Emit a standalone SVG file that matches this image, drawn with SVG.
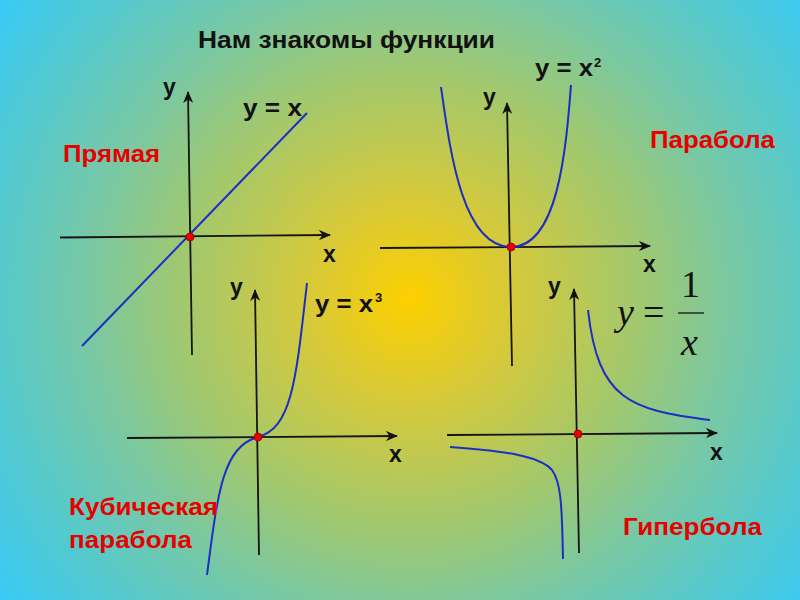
<svg xmlns="http://www.w3.org/2000/svg" width="800" height="600" viewBox="0 0 800 600">
<defs>
<radialGradient id="bg" gradientUnits="userSpaceOnUse" cx="410" cy="300" r="515">
<stop offset="0" stop-color="#fdd000"/>
<stop offset="0.2" stop-color="#d6c93a"/>
<stop offset="0.45" stop-color="#a0c870"/>
<stop offset="0.62" stop-color="#7ac8a2"/>
<stop offset="0.8" stop-color="#56c9cc"/>
<stop offset="1" stop-color="#36cbfa"/>
</radialGradient>
<marker id="arr" viewBox="0 0 12 10" refX="11" refY="5" markerWidth="12" markerHeight="10" markerUnits="userSpaceOnUse" orient="auto">
<path d="M0,0 L12,5 L0,10 L3.5,5 z" fill="#111"/>
</marker>
<style>
.ax{stroke:#151515;stroke-width:1.8;fill:none;marker-end:url(#arr)}
.cv{stroke:#1c2ec4;stroke-width:2;fill:none}
.dot{fill:#ee0000;stroke:#900;stroke-width:0.8}
.lb{font-family:"Liberation Sans",Arial,sans-serif;font-weight:bold;fill:#111;font-size:23px}
.sp{font-family:"Liberation Sans",Arial,sans-serif;font-weight:bold;fill:#111;font-size:13px}
.rd{font-family:"Liberation Sans",Arial,sans-serif;font-weight:bold;fill:#e60000;font-size:24px}
.fm{font-family:"Liberation Serif","Times New Roman",serif;fill:#111;font-size:38px}
</style>
</defs>
<rect width="800" height="600" fill="url(#bg)"/>
<text class="lb" x="198" y="48" textLength="297" lengthAdjust="spacingAndGlyphs">Нам знакомы функции</text>

<g id="line-graph">
<line class="ax" x1="60" y1="237.5" x2="330" y2="235"/>
<line class="ax" x1="192" y1="355" x2="188" y2="92"/>
<line class="cv" x1="82" y1="346" x2="307" y2="113"/>
<circle class="dot" cx="190" cy="237" r="4"/>
<text class="lb" x="163" y="95">y</text>
<text class="lb" x="243" y="116" textLength="59" lengthAdjust="spacingAndGlyphs">y = x</text>
<text class="lb" x="323" y="262">x</text>
<text class="rd" x="63" y="162" textLength="97" lengthAdjust="spacingAndGlyphs">Прямая</text>
</g>

<g id="parabola-graph">
<line class="ax" x1="380" y1="248" x2="650" y2="246"/>
<line class="ax" x1="512" y1="366" x2="507" y2="103"/>
<path class="cv" d="M441,87 C450,150 462,247 511,247 C558,247 566,150 571,85"/>
<circle class="dot" cx="511" cy="247" r="4"/>
<text class="lb" x="535" y="76" textLength="58" lengthAdjust="spacingAndGlyphs">y = x</text>
<text class="sp" x="594" y="67">2</text>
<text class="lb" x="483" y="105">y</text>
<text class="lb" x="643" y="272">x</text>
<text class="rd" x="650" y="148" textLength="125" lengthAdjust="spacingAndGlyphs">Парабола</text>
</g>

<g id="cubic-graph">
<line class="ax" x1="127" y1="438" x2="397" y2="436"/>
<line class="ax" x1="259" y1="555" x2="255" y2="290"/>
<path class="cv" d="M207,575 C218,490 223,447 258,437 C292,428 296,380 307,283"/>
<circle class="dot" cx="258" cy="437" r="4"/>
<text class="lb" x="230" y="295">y</text>
<text class="lb" x="315" y="312" textLength="58" lengthAdjust="spacingAndGlyphs">y = x</text>
<text class="sp" x="375" y="302">3</text>
<text class="lb" x="389" y="462">x</text>
<text class="rd" x="69" y="515" textLength="149" lengthAdjust="spacingAndGlyphs">Кубическая</text>
<text class="rd" x="69" y="548" textLength="123" lengthAdjust="spacingAndGlyphs">парабола</text>
</g>

<g id="hyperbola-graph">
<line class="ax" x1="447" y1="435" x2="717" y2="433"/>
<line class="ax" x1="579" y1="553" x2="574" y2="289"/>
<path class="cv" d="M588,310 C598,400 630,410 710,420"/>
<path class="cv" d="M450,447 C505,451 540,456 552,470 C561,482 562,505 563,559"/>
<circle class="dot" cx="578" cy="434" r="4"/>
<text class="lb" x="548" y="294">y</text>
<text class="lb" x="710" y="460">x</text>
<text class="rd" x="623" y="535" textLength="139" lengthAdjust="spacingAndGlyphs">Гипербола</text>
<g id="formula">
<text class="fm" x="617" y="325" font-style="italic">y</text>
<text class="fm" x="643" y="325">=</text>
<text class="fm" x="681" y="297">1</text>
<line x1="678" y1="313" x2="704" y2="313" stroke="#111" stroke-width="1.3"/>
<text class="fm" x="681" y="355" font-style="italic">x</text>
</g>
</g>
</svg>
